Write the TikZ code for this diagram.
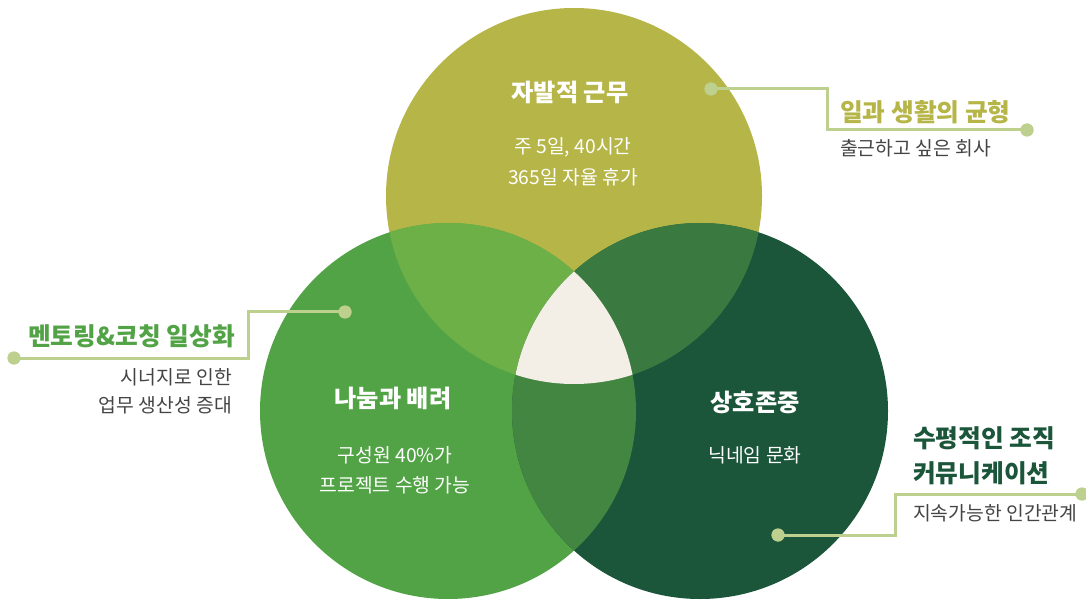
\documentclass[tikz,border=0pt]{standalone}
\usepackage{fontspec}
\setmainfont{Noto Sans CJK KR}
\begin{document}
\begin{tikzpicture}[x=1pt,y=-1pt,
  title/.style={font=\bfseries\fontsize{24.2}{28}\selectfont,text=white,inner sep=0pt},
  body/.style={font=\fontsize{19.3}{23}\selectfont,text=white,inner sep=0pt},
  callout/.style={draw=lineclr,line width=3pt},
  dotn/.style={circle,fill=lineclr,inner sep=0pt,minimum size=13pt},
  ctitle/.style={font=\bfseries\fontsize{24.7}{28}\selectfont,inner sep=0pt},
  cbody/.style={font=\fontsize{19.3}{23}\selectfont,text=graytext,inner sep=0pt}]
\definecolor{topc}{RGB}{182,181,72}
\definecolor{leftc}{RGB}{82,163,70}
\definecolor{rightc}{RGB}{27,85,58}
\definecolor{tlc}{RGB}{109,176,71}
\definecolor{trc}{RGB}{58,122,65}
\definecolor{lrc}{RGB}{67,134,66}
\definecolor{cream}{RGB}{244,239,230}
\definecolor{lineclr}{RGB}{190,208,142}
\definecolor{graytext}{RGB}{68,68,68}
\useasboundingbox (0,0) rectangle (1086,601);
\fill[white] (0,0) rectangle (1086,601);
\coordinate (ct) at (574,196);
\coordinate (cl) at (448,411);
\coordinate (cr) at (700,411);
\def\rr{188pt}
\fill[topc] (ct) circle (\rr);
\fill[leftc] (cl) circle (\rr);
\fill[rightc] (cr) circle (\rr);
\begin{scope}\clip (ct) circle (\rr); \fill[tlc] (cl) circle (\rr);\end{scope}
\begin{scope}\clip (ct) circle (\rr); \fill[trc] (cr) circle (\rr);\end{scope}
\begin{scope}\clip (cl) circle (\rr); \fill[lrc] (cr) circle (\rr);\end{scope}
\begin{scope}\clip (ct) circle (\rr); \clip (cl) circle (\rr); \fill[cream] (cr) circle (\rr);\end{scope}
% circle texts
\node[title] (t1) at (570,92) {자발적 근무};
\node[body] (t1a) at (573,147) {주 5일, 40시간};
\node[body] (t1b) at (573,177) {365일 자율 휴가};
\node[title] (t2) at (393,398) {나눔과 배려};
\node[body] (t2a) at (395,455) {구성원 40\%가};
\node[body] (t2b) at (395,485) {프로젝트 수행 가능};
\node[title] (t3) at (755,402) {상호존중};
\node[body] (t3a) at (755,455) {닉네임 문화};
% callouts
\coordinate (b1) at (827,130);
\coordinate (b2) at (248,358);
\coordinate (b3) at (895,494);
\node[dotn] (d1a) at (711,89) {};
\node[dotn] (d1b) at (1027,130) {};
\node[dotn] (d2a) at (345,312) {};
\node[dotn] (d2b) at (14,358) {};
\node[dotn] (d3a) at (778,535) {};
\node[dotn] (d3b) at (1082,494) {};
\draw[callout] (d1a.center) -| (b1) -- (d1b.center);
\draw[callout] (d2a.center) -| (b2) -- (d2b.center);
\draw[callout] (d3a.center) -| (b3) -- (d3b.center);
\node[dotn] at (d1a) {};
\node[dotn] at (d1b) {};
\node[dotn] at (d2a) {};
\node[dotn] at (d2b) {};
\node[dotn] at (d3a) {};
\node[dotn] at (d3b) {};
\node[ctitle,text=topc,anchor=west] (h1) at (840,112) {일과 생활의 균형};
\node[cbody,anchor=west] (s1) at (840,148) {출근하고 싶은 회사};
\node[ctitle,text=leftc,anchor=east] (h2) at (235,336) {멘토링\&코칭 일상화};
\node[cbody,anchor=east] (s2a) at (232,377) {시너지로 인한};
\node[cbody,anchor=east] (s2b) at (232,405) {업무 생산성 증대};
\node[ctitle,text=rightc,anchor=west] (h3a) at (913,438) {수평적인 조직};
\node[ctitle,text=rightc,anchor=west] (h3b) at (913,473) {커뮤니케이션};
\node[cbody,anchor=west] (s3) at (913,513) {지속가능한 인간관계};
\end{tikzpicture}
\end{document}
